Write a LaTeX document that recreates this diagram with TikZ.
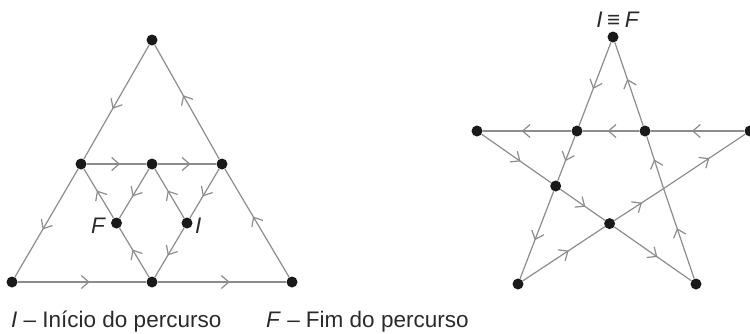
\documentclass[tikz,border=0pt]{standalone}
\usepackage{fontspec}
\setmainfont{Liberation Sans}
\usetikzlibrary{arrows.meta,decorations.markings}
\definecolor{linegray}{HTML}{8C8C8C}
\definecolor{dotblack}{HTML}{1A1A1A}
\definecolor{textgray}{HTML}{2A2A2A}
\begin{document}
\begin{tikzpicture}[x=1pt,y=-1pt,
  dot/.style={circle,fill=dotblack,inner sep=0pt,minimum size=11pt},
  edge/.style={draw=linegray,line width=1.2pt,postaction={decorate},
    decoration={markings,mark=at position 0.56 with {\arrow[linegray]{Straight Barb[length=7.5pt,width=13pt,line width=1.2pt]}}}},
  lbl/.style={font=\fontsize{22.5}{22.5}\selectfont, text=textgray, inner sep=0pt}
]
\useasboundingbox (0,0) rectangle (750,333);
% left figure
\node[dot] (T)  at (152,40) {};
\node[dot] (ML) at (81,164) {};
\node[dot] (MC) at (152,164) {};
\node[dot] (MR) at (222,164) {};
\node[dot] (F)  at (116.5,223) {};
\node[dot] (I)  at (187,223) {};
\node[dot] (BL) at (12,282) {};
\node[dot] (BM) at (152,282) {};
\node[dot] (BR) at (292,282) {};
\draw[edge] (T) -- (ML);
\draw[edge] (ML) -- (BL);
\draw[edge] (BL) -- (BM);
\draw[edge] (BM) -- (BR);
\draw[edge] (BR) -- (MR);
\draw[edge] (MR) -- (T);
\draw[edge] (ML) -- (MC);
\draw[edge] (MC) -- (MR);
\draw[edge] (MR) -- (I);
\draw[edge] (I) -- (BM);
\draw[edge] (BM) -- (F);
\draw[edge] (F) -- (ML);
\draw[edge] (MC) -- (F);
\draw[edge] (I) -- (MC);
\node[lbl,anchor=base east] (Flab) at (106,233) {\textit{F}};
\node[lbl,anchor=base west] (Ilab) at (195,233) {\textit{I}};
% star
\node[dot] (sT)  at (613,37) {};
\node[dot] (sL)  at (477,131) {};
\node[dot] (sR)  at (750,131) {};
\node[dot] (sBL) at (518,284) {};
\node[dot] (sBR) at (696,284) {};
\node[dot] (sA)  at (577,131) {};
\node[dot] (sB)  at (645,131) {};
\node[dot] (sC)  at (555.7,186) {};
\node[dot] (sD)  at (609.6,223.6) {};
\coordinate (sE) at (663.6,188.6);
\draw[edge] (sT) -- (sA);
\draw[edge] (sA) -- (sC);
\draw[edge] (sC) -- (sBL);
\draw[edge] (sBL) -- (sD);
\draw[edge] (sD) -- (sE);
\draw[edge] (sE) -- (sR);
\draw[edge] (sR) -- (sB);
\draw[edge] (sB) -- (sA);
\draw[edge] (sA) -- (sL);
\draw[edge] (sL) -- (sC);
\draw[edge] (sC) -- (sD);
\draw[edge] (sD) -- (sBR);
\draw[edge] (sBR) -- (sE);
\draw[edge] (sE) -- (sB);
\draw[edge] (sB) -- (sT);
\node[lbl,anchor=base] (IF) at (618,27) {\textit{I}\hspace{0.2em}≡\hspace{0.2em}\textit{F}};
% legend
\node[lbl,anchor=base west] (leg1) at (11,327) {\textit{I} – Início do percurso};
\node[lbl,anchor=base west] (leg2) at (266,327) {\textit{F} – Fim do percurso};
\end{tikzpicture}
\end{document}
